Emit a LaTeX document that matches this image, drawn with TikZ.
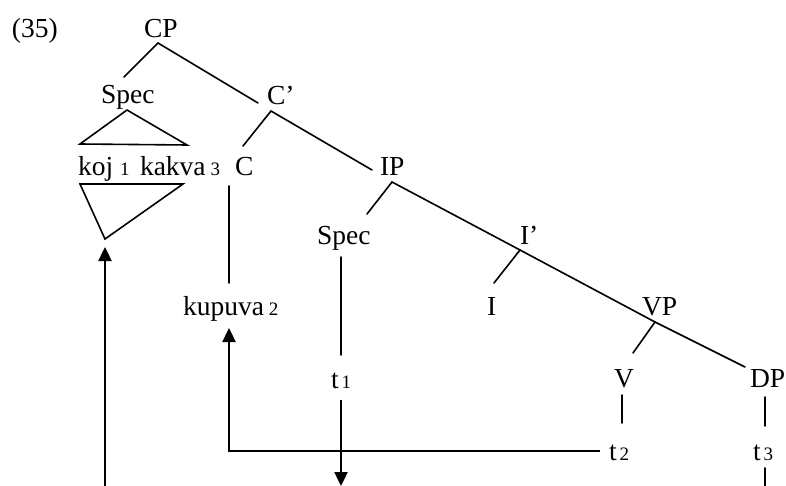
\documentclass[tikz,border=0pt]{standalone}
\usepackage{fontspec}
\setmainfont{Liberation Serif}
\usetikzlibrary{arrows.meta}
\newcommand{\idx}[1]{{\fontsize{19}{19}\selectfont #1}}
\begin{document}
\begin{tikzpicture}[x=1pt,y=-1pt,
  lbl/.style={inner sep=0pt,outer sep=0pt,anchor=base west,font=\fontsize{27.5}{27.5}\selectfont},
  edge/.style={line width=1.6pt,line cap=round},
  mv/.style={line width=2.4pt,-{Triangle[length=14pt,width=13pt]}}]
\useasboundingbox (0,0) rectangle (786,486);
% labels
\node[lbl] (n35) at (12,38) {(35)};
\node[lbl] (CP) at (144,38) {CP};
\node[lbl] (spec1) at (101,104) {Spec};
\node[lbl] (Cbar) at (267,105) {C’};
\node[lbl] (koj) at (78,176) {koj\hspace{7pt}\idx{1}};
\node[lbl] (kakva) at (140,176) {kakva\hspace{5pt}\idx{3}};
\node[lbl] (C) at (235,176) {C};
\node[lbl] (IP) at (380,176) {IP};
\node[lbl] (spec2) at (317,244) {Spec};
\node[lbl] (Ibar) at (520,244) {I’};
\node[lbl] (kup) at (183,315) {kupuva\hspace{5pt}\idx{2}};
\node[lbl] (I) at (487,315) {I};
\node[lbl] (VP) at (642,315) {VP};
\node[lbl] (t1) at (331,388) {t\hspace{3pt}\idx{1}};
\node[lbl] (V) at (614,387) {V};
\node[lbl] (DP) at (750,387) {DP};
\node[lbl] (t2) at (609,460) {t\hspace{3pt}\idx{2}};
\node[lbl] (t3) at (753,460) {t\hspace{3pt}\idx{3}};
% junction points
\coordinate (cpb) at (158,43);
\coordinate (spec1t) at (124,77);
\coordinate (cbart) at (258,103);
\coordinate (tria) at (127,110);
\coordinate (tril) at (80,144);
\coordinate (trir) at (187,145);
\coordinate (trbl) at (80,184);
\coordinate (trbr) at (183,184);
\coordinate (trba) at (105,239);
\coordinate (cbarb) at (271,111);
\coordinate (ct) at (243,146);
\coordinate (ipt) at (372,170);
\coordinate (ipb) at (392,182);
\coordinate (spec2t) at (367,214);
\coordinate (ibarb) at (520,250);
\coordinate (it) at (494,283);
\coordinate (vpb) at (655,322);
\coordinate (vt) at (633,353);
\coordinate (dpt) at (745,367);
\coordinate (cb) at (229,186);
\coordinate (kupt) at (229,283);
\coordinate (spec2b) at (341,257);
\coordinate (t1t) at (341,355);
\coordinate (vb) at (622,395);
\coordinate (t2t) at (622,423);
\coordinate (dpb) at (765,397);
\coordinate (t3t) at (765,426);
\coordinate (t3b) at (765,468);
\coordinate (t3end) at (765,486);
\coordinate (a1s) at (105,486);
\coordinate (a1e) at (105,247);
\coordinate (a2s) at (600,451);
\coordinate (a2c) at (229,451);
\coordinate (a2e) at (229,328);
\coordinate (a3s) at (341,400);
\coordinate (a3e) at (341,486);
% tree edges
\draw[edge] (spec1t) -- (cpb) -- (cbart);
\draw[edge,line join=miter] (tria) -- (tril) -- (trir) -- cycle;
\draw[edge,line join=miter] (trbl) -- (trbr) -- (trba) -- cycle;
\draw[edge] (ct) -- (cbarb) -- (ipt);
\draw[edge] (spec2t) -- (ipb) -- (ibarb) -- (vpb) -- (dpt);
\draw[edge] (ibarb) -- (it);
\draw[edge] (vpb) -- (vt);
\draw[edge] (cb) -- (kupt);
\draw[edge] (spec2b) -- (t1t);
\draw[edge] (vb) -- (t2t);
\draw[edge] (dpb) -- (t3t);
\draw[edge] (t3b) -- (t3end);
% movement arrows
\draw[mv] (a1s) -- (a1e);
\draw[mv] (a2s) -- (a2c) -- (a2e);
\draw[mv] (a3s) -- (a3e);
\end{tikzpicture}
\end{document}
